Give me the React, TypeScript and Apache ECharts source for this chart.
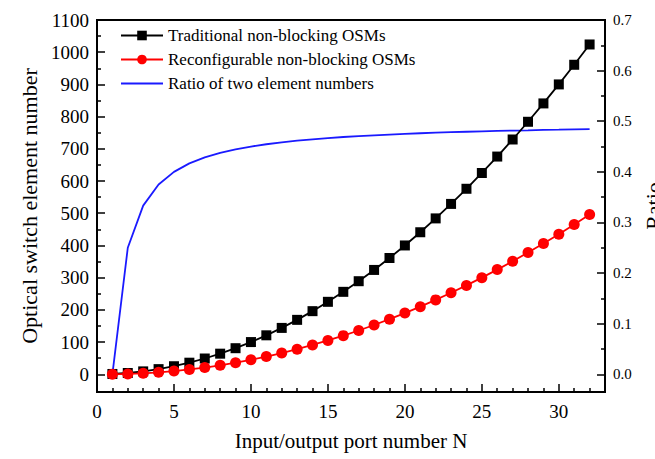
import React, { useEffect, useRef } from "react";
import * as echarts from "echarts";

const portN = [1,2,3,4,5,6,7,8,9,10,11,12,13,14,15,16,17,18,19,20,21,22,23,24,25,26,27,28,29,30,31,32];
const traditional = [1,4,9,16,25,36,49,64,81,100,121,144,169,196,225,256,289,324,361,400,441,484,529,576,625,676,729,784,841,900,961,1024];
const reconfigurable = [0,1,3,6,10,15,21,28,36,45,55,66,78,91,105,120,136,153,171,190,210,231,253,276,300,325,351,378,406,435,465,496];
const ratio = [0,0.25,0.3333,0.375,0.4,0.4167,0.4286,0.4375,0.4444,0.45,0.4545,0.4583,0.4615,0.4643,0.4667,0.4688,0.4706,0.4722,0.4737,0.475,0.4762,0.4773,0.4783,0.4792,0.48,0.4808,0.4815,0.4821,0.4828,0.4833,0.4839,0.4844];

const xMajor = [0,5,10,15,20,25,30];
const xMinor = [1,2,3,4,6,7,8,9,11,12,13,14,16,17,18,19,21,22,23,24,26,27,28,29,31,32];
const leftMajor = [0,100,200,300,400,500,600,700,800,900,1000,1100];
const leftMinor = [50,150,250,350,450,550,650,750,850,950,1050];
const rightMajor = [0,0.1,0.2,0.3,0.4,0.5,0.6,0.7];
const rightMinor = [0.05,0.15,0.25,0.35,0.45,0.55,0.65];

const FONT = "Liberation Serif";
const X_MIN = 0, X_MAX = 33, L_MIN = -55, L_MAX = 1100, R_MIN = -0.035, R_MAX = 0.7;

export default function App() {
  const ref = useRef<HTMLDivElement>(null);
  useEffect(() => {
    const chart = echarts.init(ref.current!, null, { renderer: "svg" });
    const line = () => ({ show: true, onZero: false, lineStyle: { color: "#000", width: 2 } });
    const noLine = () => ({ show: false, onZero: false });
    const tick = (len: number, vals: number[]) => ({ show: true, inside: true, length: len, lineStyle: { color: "#000", width: 1.5 }, customValues: vals });
    const box = { left: 97, right: 50, top: 20, bottom: 67, containLabel: false, outerBoundsMode: "none" };
    const tickX = (g: number, len: number, vals: number[]) => ({
      gridIndex: g, type: "value", min: X_MIN, max: X_MAX, z: 10,
      axisLine: noLine(), axisTick: tick(len, vals),
      axisLabel: { show: false, customValues: vals }, splitLine: { show: false },
    });
    const tickY = (g: number, len: number, vals: number[], pos: string, min: number, max: number) => ({
      gridIndex: g, type: "value", min, max, position: pos, z: 10,
      axisLine: noLine(), axisTick: tick(len, vals),
      axisLabel: { show: false, customValues: vals }, splitLine: { show: false },
    });
    chart.setOption({
      animation: false,
      grid: [
        { ...box, show: true, borderColor: "#000", borderWidth: 2 },
        { ...box, show: false },
        { ...box, show: false },
      ],
      legend: {
        orient: "vertical",
        left: 115,
        top: 22,
        itemWidth: 42,
        itemHeight: 12,
        itemGap: 7,
        textStyle: { fontFamily: FONT, fontSize: 17, color: "#000" },
        data: [
          "Traditional non-blocking OSMs",
          "Reconfigurable non-blocking OSMs",
          { name: "Ratio of two element numbers", itemStyle: { opacity: 0 } },
        ],
      },
      xAxis: [
        {
          gridIndex: 0, type: "value", min: X_MIN, max: X_MAX,
          name: "Input/output port number N", nameLocation: "middle", nameGap: 38,
          nameTextStyle: { fontFamily: FONT, fontSize: 21, color: "#000" },
          axisLine: line(),
          axisTick: { show: false },
          axisLabel: { fontFamily: FONT, fontSize: 19, color: "#000", margin: 10, customValues: xMajor },
          splitLine: { show: false },
        },
        tickX(1, 8, xMajor),
        tickX(2, 4, xMinor),
      ],
      yAxis: [
        {
          gridIndex: 0, type: "value", min: L_MIN, max: L_MAX, position: "left",
          name: "Optical switch element number", nameLocation: "middle", nameGap: 56, nameRotate: 90,
          nameTextStyle: { fontFamily: FONT, fontSize: 22, color: "#000" },
          axisLine: line(),
          axisTick: { show: false },
          axisLabel: { fontFamily: FONT, fontSize: 19, color: "#000", margin: 8, customValues: leftMajor, formatter: (v: number) => String(v) },
          splitLine: { show: false },
        },
        {
          gridIndex: 0, type: "value", min: R_MIN, max: R_MAX, position: "right",
          name: "Ratio", nameLocation: "middle", nameGap: 24, nameRotate: 90,
          nameTextStyle: { fontFamily: FONT, fontSize: 22, color: "#000" },
          axisLine: line(),
          axisTick: { show: false },
          axisLabel: { fontFamily: FONT, fontSize: 15, color: "#000", margin: 8, customValues: rightMajor, formatter: (v: number) => v.toFixed(1) },
          splitLine: { show: false },
        },
        tickY(1, 8, leftMajor, "left", L_MIN, L_MAX),
        tickY(2, 4, leftMinor, "left", L_MIN, L_MAX),
        tickY(1, 8, rightMajor, "right", R_MIN, R_MAX),
        tickY(2, 4, rightMinor, "right", R_MIN, R_MAX),
      ],
      series: [
        {
          name: "Traditional non-blocking OSMs", type: "line", xAxisIndex: 0, yAxisIndex: 0,
          data: portN.map((n, i) => [n, traditional[i]]),
          symbol: "rect", symbolSize: 10,
          lineStyle: { color: "#000", width: 1.8 }, itemStyle: { color: "#000" },
          z: 3,
        },
        {
          name: "Reconfigurable non-blocking OSMs", type: "line", xAxisIndex: 0, yAxisIndex: 0,
          data: portN.map((n, i) => [n, reconfigurable[i]]),
          symbol: "circle", symbolSize: 11,
          lineStyle: { color: "#ff0000", width: 1.8 }, itemStyle: { color: "#ff0000" },
          z: 4,
        },
        {
          name: "Ratio of two element numbers", type: "line", xAxisIndex: 0, yAxisIndex: 1,
          data: portN.map((n, i) => [n, ratio[i]]),
          symbol: "none",
          lineStyle: { color: "#1a1aff", width: 1.8 }, itemStyle: { color: "#1a1aff" },
          z: 2,
        },
      ],
    });
    return () => chart.dispose();
  }, []);
  return <div ref={ref} style={{ position: "fixed", left: 0, top: 0, width: 655, height: 459, background: "#fff" }} />;
}
